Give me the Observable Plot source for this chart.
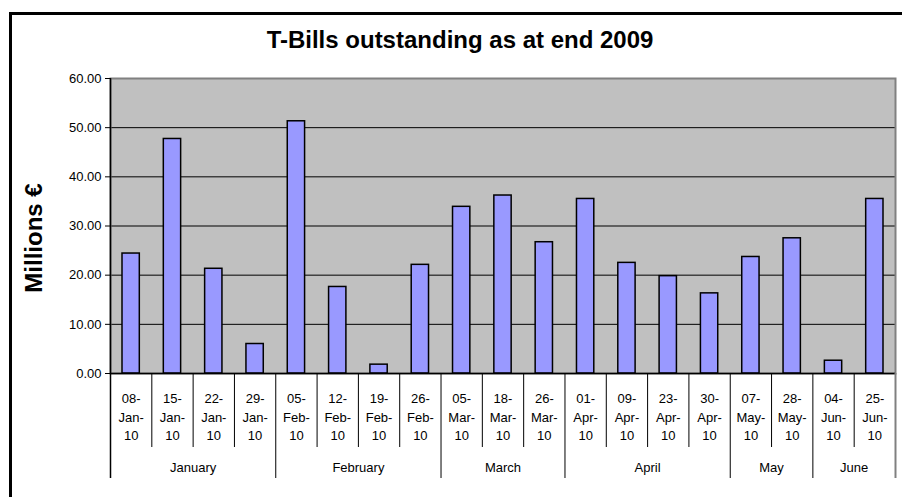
<!DOCTYPE html>
<html>
<head>
<meta charset="utf-8">
<script src="https://cdn.jsdelivr.net/npm/d3@7"></script>
<script src="https://cdn.jsdelivr.net/npm/@observablehq/plot@0.6"></script>
<style>
  html, body { margin: 0; padding: 0; background: #fff; overflow: hidden; }
  #wrap { position: relative; width: 902px; height: 497px; }
  #border { position: absolute; left: 9px; top: 12px; width: 1000px; height: 600px;
            border-left: 3px solid #000; border-top: 3px solid #000; box-sizing: border-box; }
  #chart { position: absolute; left: 0; top: 0; }
</style>
</head>
<body>
<div id="wrap"><div id="border"></div><div id="chart"></div></div>
<script>
const title = "T-Bills outstanding as at end 2009";
const yLabel = "Millions €";
const dates = ["08-Jan-10","15-Jan-10","22-Jan-10","29-Jan-10","05-Feb-10","12-Feb-10","19-Feb-10","26-Feb-10",
  "05-Mar-10","18-Mar-10","26-Mar-10","01-Apr-10","09-Apr-10","23-Apr-10","30-Apr-10","07-May-10","28-May-10",
  "04-Jun-10","25-Jun-10"];
const values = [24.4, 47.7, 21.3, 6.0, 51.3, 17.6, 1.8, 22.1, 33.9, 36.2, 26.7, 35.5, 22.5, 19.8, 16.3, 23.7, 27.5, 2.6, 35.5];
const months = ["January","February","March","April","May","June"];
const monthCounts = [4, 4, 3, 4, 2, 2];
const yTicks = [0, 10, 20, 30, 40, 50, 60];

const bars = dates.map((d, i) => ({i, date: d, value: values[i], label: d.split("-").join("-\n").replace(/-\n(\d+)$/, "-\n$1")}));
bars.forEach(b => { const p = b.date.split("-"); b.label = p[0] + "-\n" + p[1] + "-\n" + p[2]; });

let start = 0;
const monthRows = months.map((m, k) => { const r = {month: m, x1: start, x2: start + monthCounts[k]}; start += monthCounts[k]; return r; });
const monthBounds = [0, ...monthRows.map(r => r.x2)];
const innerBounds = d3.range(1, dates.length).filter(b => !monthBounds.includes(b));

const font = "'Liberation Sans', Arial, sans-serif";

const chart = Plot.plot({
  width: 902,
  height: 497,
  marginLeft: 110,
  marginRight: 7,
  marginTop: 78,
  marginBottom: 124,
  style: {fontFamily: font, background: "transparent", overflow: "visible"},
  x: {domain: [0, dates.length], axis: null},
  y: {domain: [0, 60], axis: null},
  marks: [
    Plot.frame({fill: "#C0C0C0", stroke: null}),
    Plot.ruleY(yTicks.filter(t => t > 0 && t < 60), {stroke: "#000", strokeWidth: 1}),
    Plot.frame({stroke: "#808080", strokeWidth: 2, fill: null}),
    Plot.rectY(bars, {x1: "i", x2: d => d.i + 1, y: "value", insetLeft: 12, insetRight: 12,
      fill: "#9999FF", stroke: "#000", strokeWidth: 1.5}),
    Plot.axisY({ticks: yTicks, tickFormat: d3.format(".2f"), tickSize: 5, tickPadding: 4,
      fontSize: 13, color: "#000", label: null}),
    Plot.ruleY([0], {stroke: "#000", strokeWidth: 1.5}),
    Plot.ruleX(innerBounds, {stroke: "#000", strokeWidth: 1, insetTop: 295, insetBottom: -74}),
    Plot.ruleX(monthBounds.slice(1, -1), {stroke: "#000", strokeWidth: 1, insetTop: 295, insetBottom: -105}),
    Plot.ruleX([0], {stroke: "#000", strokeWidth: 1.5, insetBottom: -105}),
    Plot.ruleX([dates.length], {stroke: "#808080", strokeWidth: 2, insetTop: 295, insetBottom: -105}),
    Plot.text(bars, {x: d => d.i + 0.5, text: "label", frameAnchor: "bottom", dy: 42.5, lineAnchor: "middle",
      lineHeight: 1.42, fontSize: 13, fill: "#000"}),
    Plot.text(monthRows, {x: d => (d.x1 + d.x2) / 2, text: "month", frameAnchor: "bottom", dy: 94,
      lineAnchor: "middle", fontSize: 13, fill: "#000"}),
    Plot.text([title], {frameAnchor: "top", dx: -43, dy: -38, lineAnchor: "middle", fontSize: 24,
      fontWeight: "bold", fill: "#000"}),
    Plot.text([yLabel], {frameAnchor: "left", dx: -76, dy: 12, rotate: -90, lineAnchor: "middle",
      textAnchor: "middle", fontSize: 24, fontWeight: "bold", fill: "#000"})
  ]
});
document.getElementById("chart").appendChild(chart);
</script>
</body>
</html>
